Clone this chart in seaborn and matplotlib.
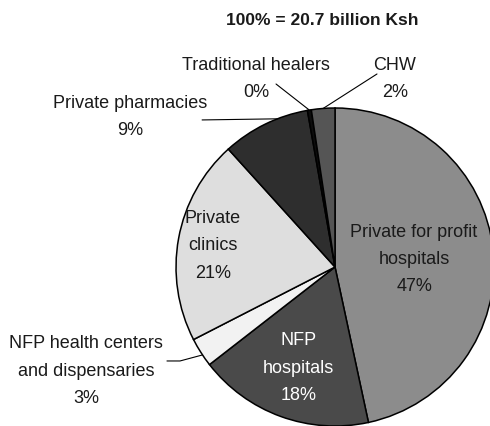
import numpy as np
import matplotlib
matplotlib.use('Agg')
import matplotlib.pyplot as plt
import seaborn as sns

sns.set_theme(style='white')
plt.rcParams['font.family'] = ['Liberation Sans', 'DejaVu Sans']

# data (clockwise from 12 o'clock)
labels = ['Private for profit\nhospitals', 'NFP\nhospitals', 'NFP health centers\nand dispensaries',
          'Private\nclinics', 'Private pharmacies', 'Traditional healers', 'CHW']
pct_text = ['47%', '18%', '3%', '21%', '9%', '0%', '2%']
shares = [47, 18, 3, 21, 9, 0.4, 2.4]
colors = ['#8c8c8c', '#4a4a4a', '#f2f2f2', '#dedede', '#2e2e2e', '#0d0d0d', '#555555']
title = '100% = 20.7 billion Ksh'

fig = plt.figure(figsize=(4.9, 4.27), dpi=100)
ax = fig.add_axes([0.3592, 0.0, 0.649, 0.7447])

wedges, _ = ax.pie(shares, colors=colors, startangle=90, counterclock=False,
                   wedgeprops=dict(edgecolor='black', linewidth=1.1))
ax.set_xlim(-1, 1)
ax.set_ylim(-1, 1)
for w in wedges:
    w.set_clip_on(False)

fs = 13
ls = 1.8

def mid(w, r=1.0, frac=0.5):
    a = np.deg2rad(w.theta1 + frac * (w.theta2 - w.theta1))
    return r * np.cos(a), r * np.sin(a)

# inside labels
inside = {0: (0.5, '#1a1a1a'), 1: (0.67, 'white'), 3: (0.78, '#1a1a1a')}
for i, (r, c) in inside.items():
    x, y = mid(wedges[i], r)
    ax.text(x, y, labels[i] + '\n' + pct_text[i], ha='center', va='center',
            fontsize=fs, color=c, linespacing=ls)

# outside labels with leader lines
outside = {
    4: ((-1.289, 0.950), (-0.836, 0.925), 0.35),
    5: ((-0.497, 1.189), (-0.371, 1.151), 0.5),
    6: ((0.377, 1.189), (0.264, 1.214), 0.5),
}
for i, (tpos, lstart, frac) in outside.items():
    ax.text(tpos[0], tpos[1], labels[i] + '\n' + pct_text[i], ha='center', va='center',
            fontsize=fs, color='#1a1a1a', linespacing=ls)
    ex, ey = mid(wedges[i], 1.0, frac)
    ax.plot([lstart[0], ex], [lstart[1], ey], color='black', lw=0.8, clip_on=False)

# health centers, elbow leader
ax.text(-1.566, -0.648, labels[2] + '\n' + pct_text[2], ha='center', va='center',
        fontsize=fs, color='#1a1a1a', linespacing=ls)
ex, ey = mid(wedges[2], 1.0, 0.6)
ax.plot([-1.057, -0.975, ex], [-0.591, -0.591, ey], color='black', lw=0.8, clip_on=False)

fig.text(0.657, 0.953, title, ha='center', va='center', fontsize=12.5, fontweight='bold',
         color='#1a1a1a')

fig.savefig('out.png', dpi=100)
